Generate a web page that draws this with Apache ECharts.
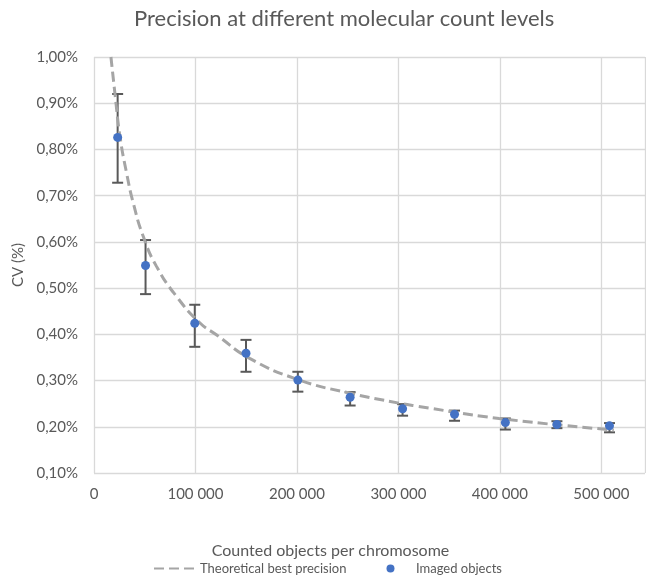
<!DOCTYPE html>
<html>
<head>
<meta charset="utf-8">
<script src="https://cdn.jsdelivr.net/npm/echarts@6/dist/echarts.min.js"></script>
<style>
html,body{margin:0;padding:0;background:#fff;}
#chart{width:646px;height:583px;}
</style>
</head>
<body>
<div id="chart"></div>
<script>
// Theoretical best precision curve (x: counted objects, y: CV in %)
const curveX = [16700, 20600, 25600, 32100, 38700, 48500, 61600, 81300, 104200, 120600, 153400, 202600, 251700, 300900, 317300, 399200, 512300];
const curveY = [1.000, 0.922, 0.828, 0.749, 0.684, 0.612, 0.547, 0.482, 0.425, 0.399, 0.348, 0.301, 0.273, 0.251, 0.245, 0.218, 0.193];

// Imaged objects (x, CV %) and error bar bounds
const imagedX = [23300, 50800, 99300, 149800, 200900, 252400, 304100, 355300, 405400, 456200, 508000];
const imagedY = [0.826, 0.549, 0.424, 0.359, 0.301, 0.264, 0.239, 0.227, 0.209, 0.205, 0.202];
const errLow  = [0.728, 0.487, 0.373, 0.319, 0.276, 0.246, 0.224, 0.213, 0.194, 0.197, 0.188];
const errHigh = [0.920, 0.604, 0.464, 0.388, 0.319, 0.275, 0.249, 0.235, 0.218, 0.212, 0.208];

const FONT = 'Lato';
const TXT = '#595959';
const GRID = '#D9D9D9';

const chart = echarts.init(document.getElementById('chart'), null, {renderer: 'canvas'});

const curveData = curveX.map((x, i) => [x, curveY[i]]);
const imagedData = imagedX.map((x, i) => [x, imagedY[i]]);
const errData = imagedX.map((x, i) => [x, errLow[i], errHigh[i]]);

chart.setOption({
  animation: false,
  backgroundColor: '#fff',
  title: {
    text: 'Precision at different molecular count levels',
    left: 129,
    top: 3,
    textStyle: {fontFamily: FONT, fontSize: 22, fontWeight: 'normal', color: TXT}
  },
  grid: {left: 94, right: 1, top: 57, bottom: 110, containLabel: false},
  legend: {
    left: 148,
    top: 557,
    itemGap: 40,
    itemWidth: 41,
    itemHeight: 8,
    data: [
      {name: 'Theoretical best precision', itemStyle: {opacity: 0}},
      {name: 'Imaged objects'}
    ],
    textStyle: {fontFamily: FONT, fontSize: 13, color: TXT}
  },
  xAxis: {
    type: 'value',
    min: 0,
    max: 543000,
    interval: 100000,
    name: 'Counted objects per chromosome',
    nameLocation: 'middle',
    nameGap: 70,
    nameTextStyle: {fontFamily: FONT, fontSize: 16, color: TXT, padding: [0, 78, 0, 0]},
    axisLine: {show: false},
    axisTick: {show: false},
    axisLabel: {
      fontFamily: FONT, fontSize: 15, color: TXT, margin: 14,
      formatter: v => String(v).replace(/\B(?=(\d{3})+(?!\d))/g, ' ')
    },
    splitLine: {show: true, lineStyle: {color: GRID, width: 1.3}}
  },
  yAxis: {
    type: 'value',
    min: 0.1,
    max: 1.0,
    interval: 0.1,
    name: 'CV (%)',
    nameLocation: 'middle',
    nameGap: 53,
    nameTextStyle: {fontFamily: FONT, fontSize: 15, color: TXT},
    axisLine: {show: false},
    axisTick: {show: false},
    axisLabel: {
      fontFamily: FONT, fontSize: 15, color: TXT, margin: 16,
      formatter: v => v.toFixed(2).replace('.', ',') + '%'
    },
    splitLine: {show: true, lineStyle: {color: GRID, width: 1.3}}
  },
  series: [
    {
      name: 'errorbars',
      type: 'custom',
      z: 2,
      data: errData,
      renderItem: function (params, api) {
        const x = api.value(0);
        const lo = api.coord([x, api.value(1)]);
        const hi = api.coord([x, api.value(2)]);
        const hw = 5.5;
        const style = {stroke: '#595959', lineWidth: 2};
        return {
          type: 'group',
          children: [
            {type: 'line', shape: {x1: lo[0], y1: lo[1], x2: hi[0], y2: hi[1]}, style: style},
            {type: 'line', shape: {x1: hi[0] - hw, y1: hi[1], x2: hi[0] + hw, y2: hi[1]}, style: style},
            {type: 'line', shape: {x1: lo[0] - hw, y1: lo[1], x2: lo[0] + hw, y2: lo[1]}, style: style}
          ]
        };
      }
    },
    {
      name: 'Theoretical best precision',
      type: 'line',
      z: 3,
      data: curveData,
      smooth: true,
      symbol: 'none',
      showSymbol: false,
      clip: true,
      color: '#A5A5A5',
      lineStyle: {color: '#A5A5A5', width: 3, type: [10, 5]}
    },
    {
      name: 'Imaged objects',
      type: 'scatter',
      z: 4,
      data: imagedData,
      symbol: 'circle',
      symbolSize: 9,
      itemStyle: {color: '#4472C4', opacity: 1}
    }
  ]
});
</script>
</body>
</html>
